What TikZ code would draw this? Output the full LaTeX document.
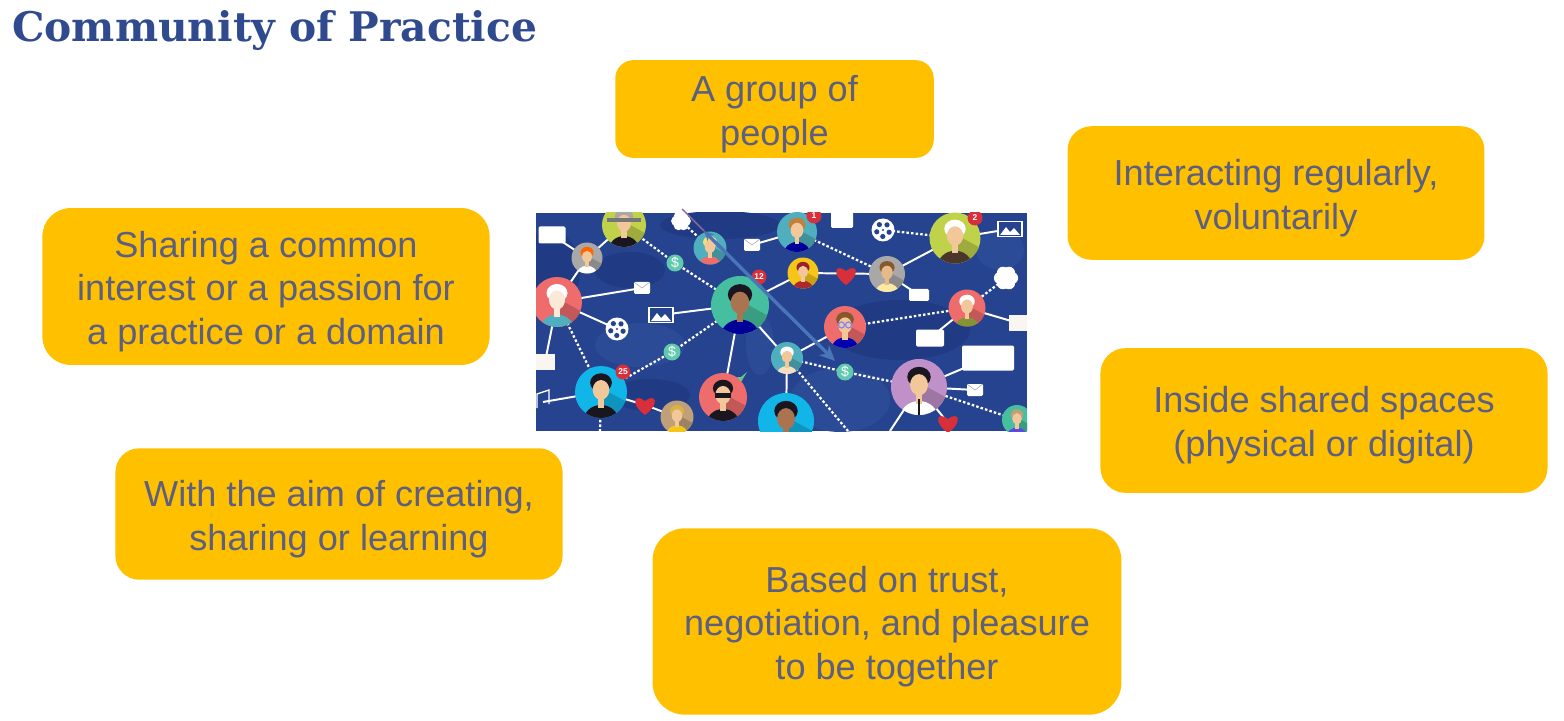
\documentclass[tikz,border=0pt]{standalone}
\usepackage{fontspec}
\usepackage{xcolor}
\usetikzlibrary{arrows.meta}
\setmainfont{Liberation Sans}
\newfontfamily\titlefont{DejaVu Serif}
\definecolor{boxfill}{HTML}{FFC000}
\definecolor{boxtext}{HTML}{5C5F80}
\definecolor{titleblue}{HTML}{2F4A8E}
\definecolor{mapblue}{HTML}{26438F}
\definecolor{mapdark}{HTML}{203B84}
\definecolor{maplight}{HTML}{2C4B97}
\definecolor{arrowblue}{HTML}{4A76B8}
\definecolor{thinviolet}{HTML}{8A6AA0}
\definecolor{lime}{HTML}{BFD24A}
\definecolor{salmon}{HTML}{EE6C6C}
\definecolor{seagreen}{HTML}{45BF9F}
\definecolor{skyc}{HTML}{12B5E8}
\definecolor{tealc}{HTML}{4FAFBE}
\definecolor{greyc}{HTML}{A8A8A8}
\definecolor{tanc}{HTML}{C0A078}
\definecolor{lilac}{HTML}{C090C8}
\definecolor{goldc}{HTML}{F5C518}
\definecolor{skin}{HTML}{F2C79A}
\definecolor{brownskin}{HTML}{A9744F}
\definecolor{darkhair}{HTML}{1A1620}
\definecolor{redc}{HTML}{D8303A}
\tikzstyle{box}=[fill=boxfill,inner sep=0pt]
\tikzstyle{boxlabel}=[text=boxtext,align=center,inner sep=0pt,yshift=-3.5pt,
  font=\fontsize{25.7}{31}\selectfont]
\tikzstyle{link}=[white,line width=1.4pt]
\tikzstyle{dots}=[white,line width=1.6pt,dash pattern=on 1.8pt off 1.5pt]
\tikzstyle{icon}=[fill=white,rounded corners=1pt]
\newcommand{\person}[6]{%
  \begin{scope}[shift={(#1)},scale=#2]
    \fill[#3] (0,0) circle (1);
    \begin{scope}
      \clip (0,0) circle (1);
      \fill[#3!82!black] (0.1,-0.1) -- (1.2,0.5) -- (0.8,1.2) -- (0.1,1) -- cycle;
      \fill[#6] (0,1.12) ellipse (0.68 and 0.62);
      \fill[#5] (0,-0.36) ellipse (0.42 and 0.36);
      \fill[#4] (-0.12,0.2) rectangle (0.12,0.6);
      \fill[#4] (0,-0.08) ellipse (0.32 and 0.38);
    \end{scope}
  \end{scope}}
\newcommand{\coin}[1]{%
  \fill[seagreen!85!white] (#1) circle (8.5);
  \node[white,font=\fontsize{10}{10}\selectfont] at (#1) {\$};}
\newcommand{\film}[1]{%
  \fill[white] (#1) circle (11.5);
  \foreach \ang in {0,72,...,288}
    \fill[mapblue] (#1) ++(\ang+20:6.5) circle (2.6);
  \fill[mapblue] (#1) circle (1.2);}
\newcommand{\frameicon}[1]{%
  \node[draw=white,line width=1pt,fill=mapblue,minimum width=17pt,minimum height=11pt,inner sep=0pt] at (#1) {};
  \fill[white] (#1) ++(-10,6) -- ++(6,-8) -- ++(4,5) -- ++(4,-4) -- ++(6,7) -- cycle;}
\newcommand{\mailicon}[1]{%
  \fill[icon] (#1) ++(-8,-6) rectangle ++(16,12);
  \draw[greyc,line width=0.4pt] (#1) ++(-8,-6) -- ++(8,6) -- ++(8,-6);}
\newcommand{\heart}[1]{%
  \begin{scope}[shift={(#1)}]
    \fill[redc] (0,10) .. controls (-16,-2) and (-10,-12) .. (0,-4)
      .. controls (10,-12) and (16,-2) .. (0,10);
  \end{scope}}
\newcommand{\badge}[2]{%
  \fill[redc] (#1) circle (7.5);
  \node[white,font=\fontsize{6}{6}\selectfont\bfseries] at (#1) {#2};}
\newcommand{\puff}[2]{%
  \foreach \ang in {0,60,...,300}
    \fill[white] (#1) ++(\ang:#2*0.55) circle (#2*0.55);}
\begin{document}
\begin{tikzpicture}[x=0.025cm,y=-0.025cm]
  \useasboundingbox (0,0) rectangle (1564,721);
  % title
  \node[anchor=west,inner sep=0pt,text=titleblue,font=\titlefont\bfseries\fontsize{29}{34}\selectfont]
    (title) at (12,31) {Community of Practice};

  % boxes
  \node[box,minimum width=226.5pt,minimum height=69.5pt,rounded corners=13pt] (group) at (774.5,109) {};
  \node[boxlabel] (grouplabel) at (group) {A group of\\people};
  \node[box,minimum width=296.5pt,minimum height=95pt,rounded corners=17pt] (interact) at (1276,193) {};
  \node[boxlabel] (interactlabel) at (interact) {Interacting regularly,\\voluntarily};
  \node[box,minimum width=318pt,minimum height=111.5pt,rounded corners=20pt] (share) at (266,286.5) {};
  \node[boxlabel] (sharelabel) at (share) {Sharing a common\\interest or a passion for\\a practice or a domain};
  \node[box,minimum width=318pt,minimum height=103pt,rounded corners=18pt] (inside) at (1324,420.5) {};
  \node[boxlabel] (insidelabel) at (inside) {Inside shared spaces\\(physical or digital)};
  \node[box,minimum width=318pt,minimum height=93.5pt,rounded corners=17pt] (aim) at (339,514) {};
  \node[boxlabel] (aimlabel) at (aim) {With the aim of creating,\\sharing or learning};
  \node[box,minimum width=333.5pt,minimum height=132.5pt,rounded corners=23pt] (trust) at (887,621.5) {};
  \node[boxlabel] (trustlabel) at (trust) {Based on trust,\\negotiation, and pleasure\\to be together};

  % network picture
  \begin{scope}
    \clip (536,213) rectangle (1027,431);
    \fill[mapblue] (536,213) rectangle (1027,431);
    % map
    \fill[mapdark] (550,270) ellipse (30 and 40);
    \fill[mapdark] (630,270) ellipse (35 and 18);
    \fill[mapdark] (900,330) ellipse (70 and 30);
    \fill[mapdark] (720,225) ellipse (60 and 14);
    \fill[mapdark] (650,395) ellipse (40 and 16);
    \fill[maplight] (840,400) ellipse (50 and 32);
    \fill[maplight] (640,345) ellipse (45 and 22);
    \fill[maplight] (1000,250) ellipse (24 and 20);
    \fill[maplight] (760,345) ellipse (14 and 30);

    % people
    \coordinate (hat) at (624,225);
    \coordinate (beard) at (587,258);
    \coordinate (pink) at (557,302);
    \coordinate (green) at (740,305);
    \coordinate (teal) at (710,248);
    \coordinate (bluewoman) at (601,392);
    \coordinate (shades) at (723,397);
    \coordinate (tan) at (677,417);
    \coordinate (cyan) at (786,421);
    \coordinate (topman) at (797,232);
    \coordinate (yellow) at (803,273);
    \coordinate (grey) at (887,274);
    \coordinate (oldman) at (955,238);
    \coordinate (glasses) at (845,327);
    \coordinate (small) at (787,358);
    \coordinate (oldlady) at (967,308);
    \coordinate (purple) at (919,387);
    \coordinate (corner) at (1017,420);
    % icons
    \coordinate (bubbleA) at (552,235);
    \coordinate (cloudA) at (681,221);
    \coordinate (filmA) at (617,329);
    \coordinate (mailA) at (642,288);
    \coordinate (frameA) at (661,315);
    \coordinate (coinA) at (675,263);
    \coordinate (coinB) at (672,352);
    \coordinate (bookA) at (545,362);
    \coordinate (noteA) at (543,402);
    \coordinate (heartA) at (645,405);
    \coordinate (mailB) at (752,245);
    \coordinate (bubbleB) at (842,220);
    \coordinate (filmB) at (883,230);
    \coordinate (frameB) at (1010,229);
    \coordinate (heartB) at (846,275);
    \coordinate (mailC) at (919,295);
    \coordinate (cloudB) at (1006,278);
    \coordinate (bookB) at (1018,323);
    \coordinate (mailD) at (930,338);
    \coordinate (bubbleC) at (988,358);
    \coordinate (mailE) at (975,390);
    \coordinate (coinC) at (845,372);
    \coordinate (heartC) at (948,423);
    \coordinate (bottomA) at (600,431);
    \coordinate (bottomB) at (848,431);
    \coordinate (bottomC) at (890,431);

    % links
    \foreach \from/\to in {pink/mailA,pink/filmA,pink/beard,pink/bookA,beard/bubbleA,beard/hat,
      green/frameA,green/shades,green/small,green/yellow,bluewoman/noteA,bluewoman/heartA,heartA/tan,
      yellow/grey,grey/oldman,grey/mailC,oldman/frameB,topman/mailB,glasses/small,
      oldlady/bookB,oldlady/mailD,purple/bubbleC,purple/mailE,purple/bottomC,small/cyan,purple/heartC}
      \draw[link] (\from) -- (\to);
    \foreach \from/\to in {hat/coinA,coinA/green,green/coinB,coinB/bluewoman,pink/bluewoman,
      teal/cloudA,topman/grey,oldman/filmB,glasses/oldlady,oldlady/cloudB,small/coinC,coinC/purple,
      small/bottomB,purple/corner,bluewoman/bottomA}
      \draw[dots] (\from) -- (\to);

    % avatars
    \person{hat}{22}{lime}{skin}{greyc}{darkhair}
    \fill[greyc!70!black] (hat) ++(-17,-7) rectangle ++(34,4);
    \person{beard}{15.5}{greyc}{skin}{orange!80!red}{white}
    \person{pink}{25}{salmon}{skin!40!white}{white}{tealc}
    \person{green}{29}{seagreen}{brownskin}{darkhair}{blue!60!black}
    \person{teal}{16.5}{tealc}{skin}{goldc!60!white}{salmon}
    \person{bluewoman}{26}{skyc}{skin}{darkhair}{darkhair}
    \person{shades}{24}{salmon}{skin}{darkhair}{darkhair}
    \fill[darkhair] (shades) ++(-8,-4) rectangle ++(16,5);
    \person{tan}{16.5}{tanc}{skin}{goldc!50!tanc}{goldc}
    \person{cyan}{28}{skyc}{brownskin}{darkhair}{blue!60!black}
    \person{topman}{20}{tealc}{skin}{brown}{blue!60!black}
    \person{yellow}{15.5}{goldc}{skin}{redc!70!black}{redc!80!black}
    \person{grey}{18}{greyc}{skin!80!brown}{brown!70!black}{goldc!40!white}
    \person{oldman}{25.5}{lime}{skin}{white}{darkhair!70!brown}
    \person{glasses}{21}{salmon}{skin}{brown!70!black}{blue!70!black}
    \draw[blue!50!white,line width=0.8pt] (glasses) ++(-3.5,-2) circle (3) ++(7,0) circle (3);
    \person{small}{16}{tealc}{skin}{white}{skin!60!white}
    \person{oldlady}{18.5}{salmon}{skin}{white}{lime!70!black}
    \person{purple}{28}{lilac}{skin}{darkhair}{white}
    \fill[darkhair] (purple) ++(-1.2,12) rectangle ++(2.4,16);
    \person{corner}{15}{seagreen}{skin}{tanc}{blue!50!lilac}

    % icons
    \fill[icon] (bubbleA) ++(-13.5,-8.5) rectangle ++(27,17);
    \puff{cloudA}{9}
    \film{filmA}
    \mailicon{mailA}
    \frameicon{frameA}
    \coin{coinA}
    \coin{coinB}
    \coin{coinC}
    \fill[white!90!tanc] (bookA) ++(-10,-8) rectangle ++(20,16);
    \draw[white,line width=1pt] (noteA) ++(-6,6) -- ++(0,-14) -- ++(12,-4) -- ++(0,14);
    \badge{623,372}{25}
    \heart{heartA}
    \fill[seagreen!70!lime] (737,377) -- (741,382) -- (747,372) -- (741,377) -- cycle;
    \badge{759,277}{12}
    \mailicon{mailB}
    \badge{814,216}{1}
    \fill[icon] (bubbleB) ++(-11,-8) rectangle ++(22,16);
    \film{filmB}
    \badge{975,218}{2}
    \frameicon{frameB}
    \heart{heartB}
    \fill[icon] (mailC) ++(-10,-6) rectangle ++(20,12);
    \puff{cloudB}{11}
    \fill[white!90!tanc] (bookB) ++(-9,-8) rectangle ++(20,16);
    \fill[icon] (mailD) ++(-14,-8.5) rectangle ++(28,17);
    \fill[icon] (bubbleC) ++(-26,-12.5) rectangle ++(52,25);
    \mailicon{mailE}
    \heart{heartC}
  \end{scope}

  % arrow
  \coordinate (tail) at (682,209);
  \coordinate (kink) at (704,231);
  \coordinate (head) at (835,361);
  \draw[thinviolet,line width=1pt] (tail) -- (kink);
  \draw[arrowblue,line width=2.4pt,{Stealth[length=7pt,width=6.5pt]}-{Stealth[length=11pt,width=10pt]}] (kink) -- (head);
\end{tikzpicture}
\end{document}
